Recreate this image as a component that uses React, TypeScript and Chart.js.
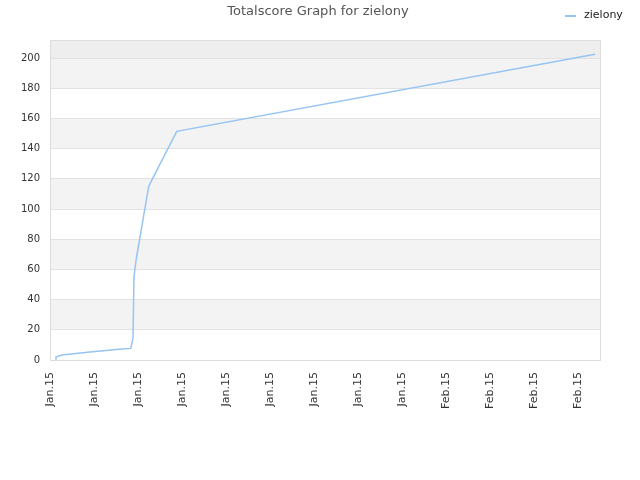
import React, { useEffect, useRef } from "react";
import { Chart, registerables } from "chart.js";

Chart.register(...registerables);

const titleText = "Totalscore Graph for zielony";
const seriesName = "zielony";
const xTickLabels = [
  "Jan.15", "Jan.15", "Jan.15", "Jan.15", "Jan.15", "Jan.15", "Jan.15",
  "Jan.15", "Jan.15", "Feb.15", "Feb.15", "Feb.15", "Feb.15",
];
const xPositions = [0.125, 0.136, 0.273, 0.909, 1.568, 1.834, 1.886, 1.909, 1.955, 2.243, 2.311, 2.88, 12.386];
const scores = [0.3, 2, 3.3, 5.3, 7.1, 7.7, 14.4, 55, 66, 115, 119, 151.5, 202.6];
const yMax = 212;
const bandRanges: [number, number, string][] = [
  [20, 40, "#f3f3f3"],
  [60, 80, "#f3f3f3"],
  [100, 120, "#f3f3f3"],
  [140, 160, "#f3f3f3"],
  [180, 200, "#f3f3f3"],
  [200, 212, "#eeeeee"],
];

const LINE_COLOR = "#96c4f3";
const FONT = "'DejaVu Sans', sans-serif";

export default function App() {
  const ref = useRef<HTMLCanvasElement | null>(null);

  useEffect(() => {
    if (!ref.current) return;
    const bandsPlugin = {
      id: "bands",
      beforeDraw(chart: any) {
        const { ctx, chartArea, scales } = chart;
        const y = scales.y;
        ctx.save();
        for (const [a, b, c] of bandRanges) {
          const top = y.getPixelForValue(b);
          const bot = y.getPixelForValue(a);
          ctx.fillStyle = c;
          ctx.fillRect(chartArea.left, top, chartArea.right - chartArea.left, bot - top);
        }
        ctx.restore();
      },
      beforeDatasetsDraw(chart: any) {
        const { ctx, chartArea } = chart;
        ctx.save();
        ctx.strokeStyle = "#dddddd";
        ctx.lineWidth = 1;
        ctx.strokeRect(
          Math.round(chartArea.left) + 0.5,
          Math.round(chartArea.top) + 0.5,
          Math.round(chartArea.right - chartArea.left),
          Math.round(chartArea.bottom - chartArea.top)
        );
        ctx.restore();
      },
      afterDraw(chart: any) {
        const { ctx } = chart;
        ctx.save();
        ctx.fillStyle = "#555555";
        ctx.font = `13px ${FONT}`;
        ctx.textBaseline = "middle";
        ctx.textAlign = "center";
        ctx.fillText(titleText, 318, 12);

        ctx.strokeStyle = LINE_COLOR;
        ctx.lineWidth = 2;
        ctx.beginPath();
        ctx.moveTo(565, 16);
        ctx.lineTo(576, 16);
        ctx.stroke();
        ctx.fillStyle = "#222222";
        ctx.font = `11px ${FONT}`;
        ctx.textAlign = "left";
        ctx.fillText(seriesName, 584, 15);
        ctx.restore();
      },
    };

    const chart = new Chart(ref.current, {
      type: "line",
      data: {
        datasets: [
          {
            label: seriesName,
            data: xPositions.map((x, i) => ({ x, y: scores[i] })),
            borderColor: LINE_COLOR,
            backgroundColor: LINE_COLOR,
            borderWidth: 1.5,
            pointRadius: 0,
            tension: 0,
            fill: false,
          },
        ],
      },
      options: {
        responsive: false,
        animation: false,
        layout: { padding: { left: 0, right: 40, top: 40, bottom: 0 } },
        plugins: {
          legend: { display: false },
          tooltip: { enabled: false },
          title: { display: false },
        },
        scales: {
          x: {
            type: "linear",
            min: 0,
            max: 12.5,
            afterFit(scale: any) {
              scale.height = 120;
            },
            afterBuildTicks(scale: any) {
              scale.ticks = xTickLabels.map((_, i) => ({ value: i }));
            },
            ticks: {
              autoSkip: false,
              maxRotation: 90,
              minRotation: 90,
              padding: 12,
              color: "#333333",
              font: { family: FONT, size: 11 },
              callback: (v: any) => xTickLabels[Math.round(Number(v))] ?? "",
            },
            grid: { display: false, drawTicks: false },
            border: { display: false },
          },
          y: {
            min: 0,
            max: yMax,
            afterFit(scale: any) {
              scale.width = 50;
            },
            afterBuildTicks(scale: any) {
              const t = [];
              for (let v = 0; v <= 200; v += 20) t.push({ value: v });
              scale.ticks = t;
            },
            ticks: {
              padding: 10,
              color: "#333333",
              font: { family: FONT, size: 10 },
            },
            grid: { color: "#e2e2e2", drawTicks: false },
            border: { display: false },
          },
        },
      },
      plugins: [bandsPlugin],
    } as any);
    return () => chart.destroy();
  }, []);

  return (
    <div style={{ position: "fixed", left: 0, top: 0, width: 640, height: 480, background: "#fff" }}>
      <canvas ref={ref} width={640} height={480} />
    </div>
  );
}
